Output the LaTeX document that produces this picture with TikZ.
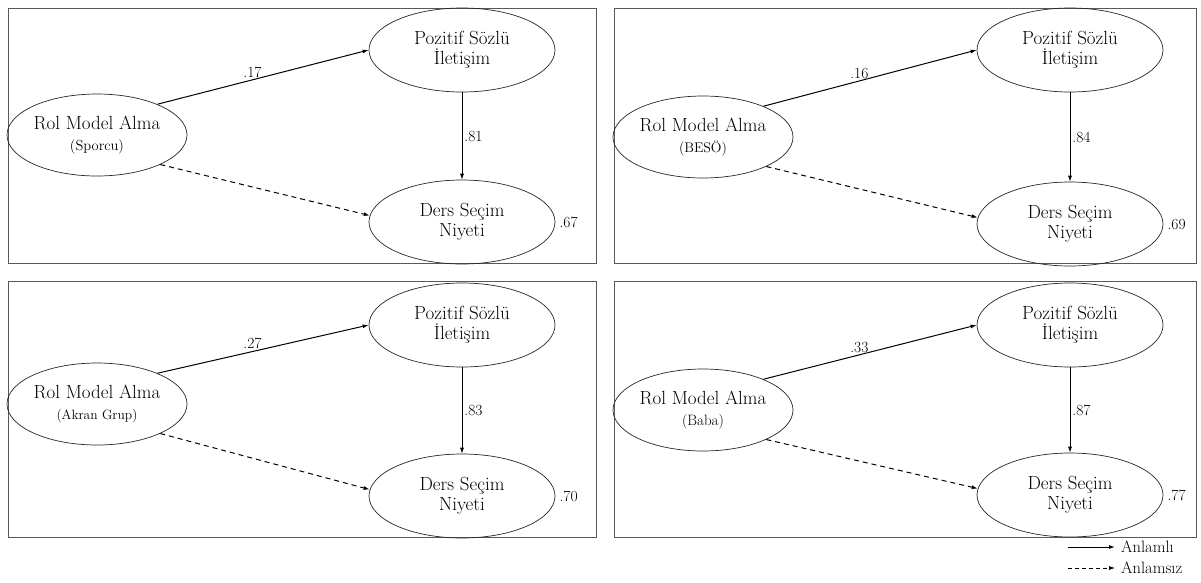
\documentclass[tikz,border=0pt]{standalone}
\usepackage{fontspec}
\usetikzlibrary{shapes.geometric,arrows.meta,positioning}

\begin{document}
\begin{tikzpicture}[x=1pt,y=-1pt,
  latent/.style={draw=black!85,line width=0.7pt,ellipse,inner sep=0pt,align=center,font=\fontsize{19}{20}\selectfont},
  rolnode/.style={latent,inner xsep=-3pt,minimum width=180pt,minimum height=82pt},
  varnode/.style={latent,minimum width=186pt,minimum height=84pt},
  panel/.style={draw=black!65,line width=0.8pt},
  coef/.style={font=\fontsize{15.5}{17}\selectfont,inner sep=2pt},
  sig/.style={-{Latex[length=6pt,width=4pt]},line width=1pt},
  nonsig/.style={sig,dash pattern=on 5pt off 4pt}]
\useasboundingbox (0,0) rectangle (1201,582);

\begin{scope}[shift={(8,8)}]
\draw[panel] (0,0) rectangle (588,255);
\node[rolnode] (rol1) at (89,127) {Rol Model Alma\\[1pt]{\fontsize{14.5}{15}\selectfont(Sporcu)}};
\node[varnode] (poz1) at (454,42) {Pozitif Sözlü\\İletişim};
\node[varnode] (ders1) at (454,214) {Ders Seçim\\Niyeti};
\draw[sig] (rol1.27) -- node[coef,pos=0.45,above] (a1) {.17} (poz1.west);
\draw[sig,line width=0.8pt] (poz1.south) -- node[coef,right] (b1) {.81} (ders1.north);
\draw[nonsig] (rol1.-25) -- (ders1.176);
\node[coef,right=2pt of ders1.east] (rsq1) {.67};
\end{scope}

\begin{scope}[shift={(614,8)}]
\draw[panel] (0,0) rectangle (582,255);
\node[rolnode] (rol2) at (89,129) {Rol Model Alma\\[1pt]{\fontsize{14}{15}\selectfont(BESÖ)}};
\node[varnode] (poz2) at (456,42) {Pozitif Sözlü\\İletişim};
\node[varnode] (ders2) at (456,216) {Ders Seçim\\Niyeti};
\draw[sig] (rol2.27) -- node[coef,pos=0.45,above] (a2) {.16} (poz2.west);
\draw[sig,line width=0.8pt] (poz2.south) -- node[coef,right] (b2) {.84} (ders2.north);
\draw[nonsig] (rol2.-25) -- (ders2.176);
\node[coef,right=2pt of ders2.east] (rsq2) {.69};
\end{scope}

\begin{scope}[shift={(8,281)}]
\draw[panel] (0,0) rectangle (588,256);
\node[rolnode] (rol3) at (89,123) {Rol Model Alma\\[1pt]{\fontsize{13.5}{15}\selectfont(Akran Grup)}};
\node[varnode] (poz3) at (454,44) {Pozitif Sözlü\\İletişim};
\node[varnode] (ders3) at (454,215) {Ders Seçim\\Niyeti};
\draw[sig] (rol3.27) -- node[coef,pos=0.45,above] (a3) {.27} (poz3.west);
\draw[sig,line width=0.8pt] (poz3.south) -- node[coef,right] (b3) {.83} (ders3.north);
\draw[nonsig] (rol3.-25) -- (ders3.176);
\node[coef,right=2pt of ders3.east] (rsq3) {.70};
\end{scope}

\begin{scope}[shift={(614,281)}]
\draw[panel] (0,0) rectangle (582,256);
\node[rolnode] (rol4) at (89,129) {Rol Model Alma\\[1pt]{\fontsize{15}{15}\selectfont(Baba)}};
\node[varnode] (poz4) at (456,44) {Pozitif Sözlü\\İletişim};
\node[varnode] (ders4) at (456,214) {Ders Seçim\\Niyeti};
\draw[sig] (rol4.27) -- node[coef,pos=0.45,above] (a4) {.33} (poz4.west);
\draw[sig,line width=0.8pt] (poz4.south) -- node[coef,right] (b4) {.87} (ders4.north);
\draw[nonsig] (rol4.-25) -- (ders4.176);
\node[coef,right=2pt of ders4.east] (rsq4) {.77};
\end{scope}

\coordinate (lg1) at (1068,547);
\coordinate (lg2) at (1068,568);
\node[coef,font=\fontsize{16.5}{17}\selectfont,anchor=west,inner sep=0pt] (anlamli) at (1121,547) {Anlamlı};
\node[coef,font=\fontsize{16.5}{17}\selectfont,anchor=west,inner sep=0pt] (anlamsiz) at (1121,568) {Anlamsız};
\draw[sig] (lg1) -- ([xshift=-6pt]anlamli.west);
\draw[sig,line width=0.7pt,dash pattern=on 4pt off 3pt] (lg2) -- ([xshift=-6pt]anlamsiz.west);
\end{tikzpicture}
\end{document}
